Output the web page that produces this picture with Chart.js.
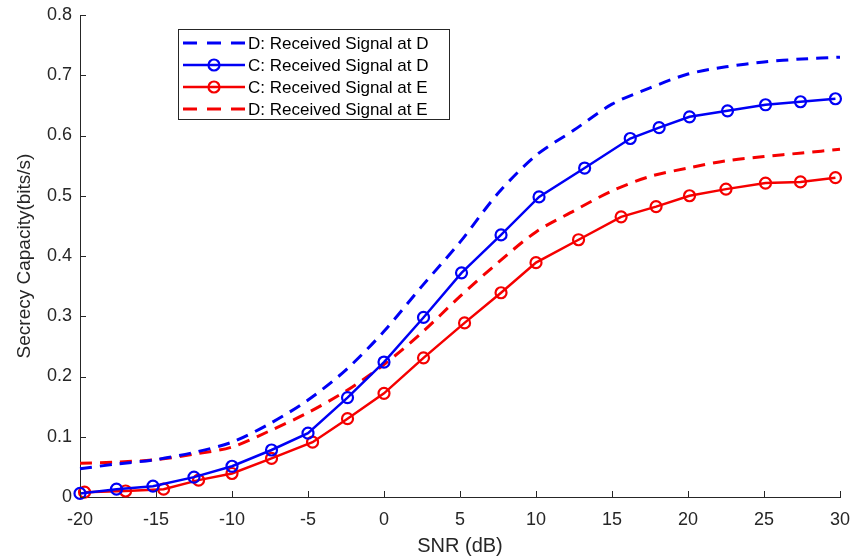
<!DOCTYPE html>
<html>
<head>
<meta charset="utf-8">
<script src="https://cdn.jsdelivr.net/npm/chart.js@4/dist/chart.umd.min.js"></script>
<style>
  html, body { margin: 0; padding: 0; background: #fff; }
  canvas { display: block; }
</style>
</head>
<body>
<canvas id="capChart" width="853" height="558"></canvas>
<script>
// dashed curves (D: ...) sampled every 2.5 dB
const snrDashed = [-20, -17.5, -15, -12.5, -10, -7.5, -5, -2.5, 0, 2.5, 5, 7.5, 10, 12.5, 15, 17.5, 20, 22.5, 25, 27.5, 30];
const capDatD = [0.047, 0.055, 0.062, 0.074, 0.091, 0.122, 0.161, 0.211, 0.275, 0.350, 0.423, 0.504, 0.567, 0.609, 0.652, 0.679, 0.702, 0.714, 0.722, 0.727, 0.730];
const capDatE = [0.056, 0.058, 0.062, 0.071, 0.083, 0.110, 0.140, 0.176, 0.220, 0.273, 0.333, 0.389, 0.440, 0.475, 0.508, 0.532, 0.546, 0.558, 0.565, 0.571, 0.577];

// marker curves (C: ...)
const snrCatD = [-20, -17.6, -15.2, -12.5, -10, -7.4, -5, -2.4, 0, 2.6, 5.1, 7.7, 10.2, 13.2, 16.2, 18.1, 20.1, 22.6, 25.1, 27.4, 29.7];
const capCatD = [0.006, 0.013, 0.018, 0.033, 0.051, 0.078, 0.106, 0.165, 0.224, 0.298, 0.372, 0.435, 0.498, 0.546, 0.595, 0.613, 0.631, 0.641, 0.651, 0.656, 0.661];
const snrCatE = [-19.7, -17.0, -14.5, -12.2, -10, -7.4, -4.7, -2.4, 0, 2.6, 5.3, 7.7, 10, 12.8, 15.6, 17.9, 20.1, 22.5, 25.1, 27.4, 29.7];
const capCatE = [0.008, 0.010, 0.013, 0.028, 0.039, 0.064, 0.091, 0.130, 0.172, 0.231, 0.289, 0.339, 0.389, 0.427, 0.465, 0.482, 0.500, 0.511, 0.521, 0.523, 0.530];

const seriesNames = ["D: Received Signal at D", "C: Received Signal at D", "C: Received Signal at E", "D: Received Signal at E"];
const xTickValues = [-20, -15, -10, -5, 0, 5, 10, 15, 20, 25, 30];
const yTickValues = [0, 0.1, 0.2, 0.3, 0.4, 0.5, 0.6, 0.7, 0.8];

const BLUE = "#0000f5";
const RED = "#f50000";
const INK = "#262626";
const FONT = "'Liberation Sans', Arial, Helvetica, sans-serif";

function pairs(xs, ys) {
  return xs.map((x, i) => ({ x: x, y: ys[i] }));
}

function dashedSet(label, color, xs, ys) {
  return {
    label: label, data: pairs(xs, ys),
    borderColor: color, borderWidth: 3, borderDash: [12, 8],
    pointRadius: 0, tension: 0.3, clip: false
  };
}

function markerSet(label, color, xs, ys) {
  return {
    label: label, data: pairs(xs, ys),
    borderColor: color, borderWidth: 2.5,
    pointRadius: 5.5, pointBorderWidth: 2.2,
    pointBackgroundColor: "rgba(0,0,0,0)", pointBorderColor: color,
    tension: 0, clip: false
  };
}

// MATLAB style ticks pointing into the plot
const innerTicks = {
  id: "innerTicks",
  afterDraw(chart) {
    const ctx = chart.ctx;
    const xs = chart.scales.x, ys = chart.scales.y;
    ctx.save();
    ctx.strokeStyle = INK;
    ctx.lineWidth = 1;
    ctx.beginPath();
    xs.ticks.forEach(t => {
      const px = Math.round(xs.getPixelForValue(t.value)) + 0.5;
      ctx.moveTo(px, xs.top);
      ctx.lineTo(px, xs.top - 6);
    });
    ys.ticks.forEach(t => {
      const py = Math.round(ys.getPixelForValue(t.value)) + 0.5;
      ctx.moveTo(ys.right, py);
      ctx.lineTo(ys.right + 6, py);
    });
    ctx.stroke();
    ctx.restore();
  }
};

const boxLegend = {
  id: "boxLegend",
  afterDraw(chart) {
    const ctx = chart.ctx;
    ctx.save();
    ctx.fillStyle = "#fff";
    ctx.fillRect(178.5, 29.5, 271, 90);
    ctx.strokeStyle = INK;
    ctx.lineWidth = 1;
    ctx.strokeRect(178.5, 29.5, 271, 90);
    ctx.font = "17px " + FONT;
    ctx.textBaseline = "middle";
    chart.data.datasets.forEach((ds, i) => {
      const y = 43 + i * 22;
      ctx.strokeStyle = ds.borderColor;
      ctx.lineWidth = ds.borderWidth;
      ctx.setLineDash(ds.pointRadius ? [] : [14, 10]);
      ctx.beginPath();
      ctx.moveTo(183, y);
      ctx.lineTo(245, y);
      ctx.stroke();
      ctx.setLineDash([]);
      if (ds.pointRadius) {
        ctx.lineWidth = ds.pointBorderWidth;
        ctx.beginPath();
        ctx.arc(214, y, ds.pointRadius, 0, Math.PI * 2);
        ctx.stroke();
      }
      ctx.fillStyle = "#000";
      ctx.fillText(ds.label, 248, y + 1);
    });
    ctx.restore();
  }
};

const ctx = document.getElementById("capChart").getContext("2d");
const capChart = new Chart(ctx, {
  type: "line",
  data: {
    datasets: [
      dashedSet(seriesNames[0], BLUE, snrDashed, capDatD),
      markerSet(seriesNames[1], BLUE, snrCatD, capCatD),
      markerSet(seriesNames[2], RED, snrCatE, capCatE),
      dashedSet(seriesNames[3], RED, snrDashed, capDatE)
    ]
  },
  options: {
    responsive: false,
    animation: false,
    layout: { padding: { left: 0, top: 15, right: 13, bottom: 0 } },
    plugins: {
      legend: { display: false },
      tooltip: { enabled: false }
    },
    scales: {
      x: {
        type: "linear",
        min: -20,
        max: 30,
        afterBuildTicks: s => { s.ticks = xTickValues.map(v => ({ value: v })); },
        afterFit: s => { s.height = 61; s.paddingLeft = 0; s.paddingRight = 0; },
        grid: { display: false, drawTicks: false },
        border: { display: true, color: INK, width: 1 },
        ticks: { color: INK, padding: 12, font: { family: FONT, size: 18 }, maxRotation: 0 },
        title: {
          display: true, text: "SNR (dB)", color: INK,
          font: { family: FONT, size: 20 }, padding: { top: 0, bottom: 0 }
        }
      },
      y: {
        min: 0,
        max: 0.8,
        afterBuildTicks: s => { s.ticks = yTickValues.map(v => ({ value: v })); },
        afterFit: s => { s.width = 80; s.paddingTop = 0; s.paddingBottom = 0; },
        grid: { display: false, drawTicks: false },
        border: { display: true, color: INK, width: 1 },
        ticks: {
          color: INK, padding: 8, font: { family: FONT, size: 18 },
          callback: v => v === 0 ? "0" : v.toFixed(1)
        },
        title: {
          display: true, text: "Secrecy Capacity(bits/s)", color: INK,
          font: { family: FONT, size: 19 }, padding: { top: 13, bottom: 0 }
        }
      }
    }
  },
  plugins: [innerTicks, boxLegend]
});
</script>
</body>
</html>
